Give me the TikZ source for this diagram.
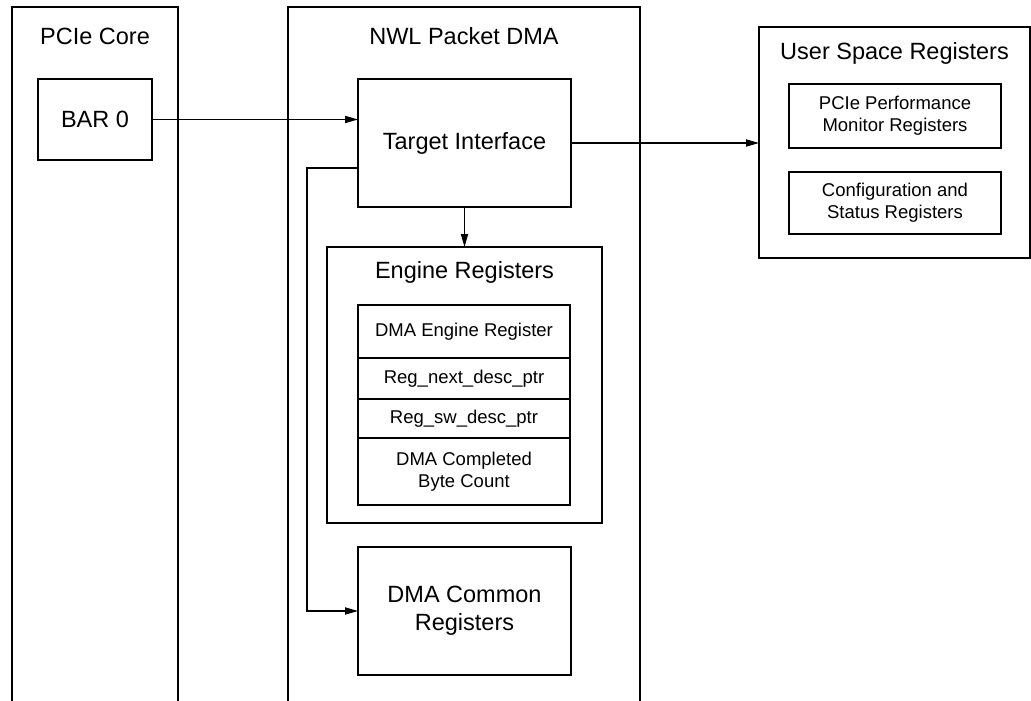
\documentclass[tikz,border=0pt]{standalone}
\usepackage{fontspec}
\setmainfont{Liberation Sans}
\usetikzlibrary{arrows.meta}
\usetikzlibrary{positioning}
\newcommand{\mainsize}{\fontsize{11.75}{14}\selectfont}
\newcommand{\smallsize}{\fontsize{9.25}{11}\selectfont}
\tikzset{
	block/.style={draw=black, line width=1.2pt, inner sep=0pt, outer sep=0pt, align=center, font=\mainsize},
	regrow/.style={block, minimum width=106pt, font=\smallsize},
	boxtitle/.style={inner sep=0pt, anchor=base, font=\mainsize},
	conn/.style={draw=black, line width=0.6pt, -{Triangle[length=6.5pt,width=3.6pt]}},
}
\begin{document}
\begin{tikzpicture}[x=0.5pt, y=-0.5pt]
	\path[use as bounding box, clip] (0,0) rectangle (1031,700);
	% PCIe core
	\node[block, minimum width=83pt, minimum height=380pt] (pcie) at (95,387) {};
	\node[boxtitle] (pcietitle) at (95,45) {PCIe Core};
	\node[block, minimum width=57pt, minimum height=40.5pt] (bar) at (95,119.5) {BAR 0};
	%
	% packet dma
	\node[block, minimum width=176pt, minimum height=380pt] (nwl) at (464,387) {};
	\node[boxtitle] (nwltitle) at (464,45) {NWL Packet DMA};
	\node[block, minimum width=106.5pt, minimum height=64pt] (target) at (464.5,143) {Target Interface};
	\node[block, minimum width=137.5pt, minimum height=138pt] (engine) at (464.5,385) {};
	\node[boxtitle] (enginetitle) at (464.5,278) {Engine Registers};
	\node[regrow, minimum height=26.5pt] (row1) at (464,331.5) {DMA Engine Register};
	\node[regrow, minimum height=20.5pt, below=0pt of row1] (row2) {Reg\_next\_desc\_ptr};
	\node[regrow, minimum height=19.5pt, below=0pt of row2] (row3) {Reg\_sw\_desc\_ptr};
	\node[regrow, minimum height=33.5pt, below=0pt of row3] (row4) {DMA Completed\\Byte Count};
	\node[block, minimum width=106.5pt, minimum height=64pt] (common) at (464.5,611) {DMA Common\\Registers};
	%
	% user space
	\node[block, minimum width=135.5pt, minimum height=115.5pt] (user) at (894.5,142.5) {};
	\node[boxtitle] (usertitle) at (894.5,59.5) {User Space Registers};
	\node[block, font=\smallsize, minimum width=106pt, minimum height=32pt] (perf) at (895,116) {PCIe Performance\\Monitor Registers};
	\node[block, font=\smallsize, minimum width=106pt, minimum height=31pt] (config) at (895,203) {Configuration and\\Status Registers};
	%
	\draw[conn] (bar.east) -- (bar.east -| target.west);
	\draw[conn] (target.east) -- (target.east -| user.west);
	\draw[conn] (target.south) -- (engine.north);
	\draw[conn] ([yshift=-12.5pt]target.west) -- ++(-51,0) |- (common.west);
\end{tikzpicture}
\end{document}
